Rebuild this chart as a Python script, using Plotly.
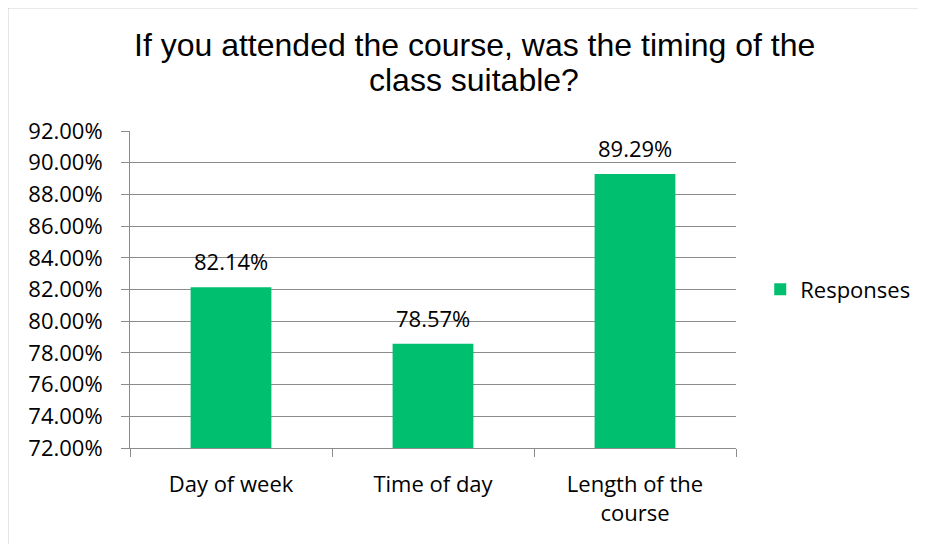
import plotly.graph_objects as go

categories = ["Day of week", "Time of day", "Length of the<br>course"]
responses = [0.8214, 0.7857, 0.8929]
series_name = "Responses"
title_lines = ["If you attended the course, was the timing of the", "class suitable?"]

bar_color = "#00BF6F"
grid_color = "#8C8C8C"
label_font = dict(family="Open Sans", size=22, color="#000000")

# the page body adds an 8px offset, so margins are pulled in by that much
fig = go.Figure()
fig.add_trace(go.Bar(
    x=categories, y=responses, name=series_name,
    marker=dict(color=bar_color, line=dict(width=0)),
    showlegend=True,
))

# data labels sitting a bit above each bar, like the spreadsheet original
for cat, val in zip(categories, responses):
    fig.add_annotation(
        x=cat, y=val, text=f"{val:.2%}", showarrow=False,
        yanchor="bottom", yshift=9, font=label_font,
    )

# title lines as paper annotations, tighter line spacing than plotly's default
for i, line in enumerate(title_lines):
    fig.add_annotation(
        text=line, xref="paper", yref="paper",
        x=(474 - 130) / 606, y=(448 - 45 - 35 * i) / 317,
        xanchor="center", yanchor="middle", showarrow=False,
        font=dict(family="Liberation Sans", size=32, color="#000000"),
    )

fig.update_layout(
    width=926, height=544,
    margin=dict(l=122, r=198, t=123, b=104),
    paper_bgcolor="white", plot_bgcolor="white",
    bargap=0.6,
    legend=dict(
        x=1.04, y=0.5, xanchor="left", yanchor="middle",
        font=label_font, bgcolor="rgba(0,0,0,0)",
    ),
    shapes=[dict(
        type="rect", xref="paper", yref="paper",
        x0=-0.2021, x1=1.31, y0=-0.4, y1=1.3896,
        line=dict(color="#A6A6A6", width=1.5),
    )],
)

fig.update_yaxes(
    range=[0.72, 0.92], dtick=0.02, tickformat=".2%",
    showgrid=True, gridcolor=grid_color, gridwidth=1,
    showline=True, linecolor=grid_color, linewidth=1,
    ticks="outside", ticklen=8, tickcolor=grid_color,
    ticklabelstandoff=14, automargin=False,
    zeroline=False, tickfont=label_font,
)
fig.update_xaxes(
    showline=True, linecolor=grid_color, linewidth=1,
    ticks="outside", ticklen=8, tickcolor=grid_color,
    tickson="boundaries", ticklabelstandoff=17, automargin=False,
    tickfont=label_font,
)

fig.write_html("out.html")
